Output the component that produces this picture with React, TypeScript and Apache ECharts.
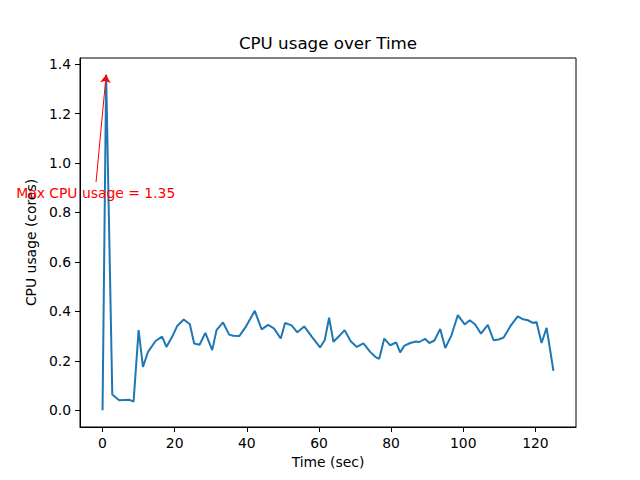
import React, { useEffect, useRef } from "react";
import * as echarts from "echarts";

const times = [0, 1, 2.7, 4.6, 7.5, 8.6, 10.0, 11.2, 12.6, 14.7, 16.5, 17.7, 19.4, 20.7, 22.5, 24.2, 25.4, 26.9, 28.5, 30.4, 31.6, 33.4, 35.1, 36.2, 37.9, 39.6, 42.2, 44.1, 45.9, 47.5, 49.4, 50.6, 52.4, 54.0, 55.9, 58.1, 60.3, 61.6, 62.8, 64.0, 65.6, 67.1, 68.8, 70.5, 72.3, 74.2, 75.6, 76.7, 78.1, 79.7, 81.4, 82.5, 83.6, 85.3, 86.9, 87.8, 89.4, 90.6, 92.0, 93.6, 95.0, 96.7, 98.5, 100.4, 101.8, 103.3, 104.9, 106.8, 108.4, 109.8, 111.2, 113.1, 115.1, 116.6, 117.9, 119.3, 120.3, 121.7, 123.1, 125.0];
const cpuUsage = [0, 1.357, 0.064, 0.04, 0.042, 0.035, 0.324, 0.175, 0.236, 0.28, 0.298, 0.256, 0.3, 0.341, 0.367, 0.348, 0.27, 0.265, 0.313, 0.243, 0.324, 0.355, 0.306, 0.301, 0.3, 0.335, 0.402, 0.327, 0.345, 0.331, 0.29, 0.353, 0.343, 0.315, 0.339, 0.296, 0.254, 0.284, 0.374, 0.277, 0.3, 0.324, 0.279, 0.256, 0.27, 0.236, 0.216, 0.208, 0.29, 0.263, 0.274, 0.234, 0.26, 0.272, 0.278, 0.276, 0.289, 0.272, 0.282, 0.329, 0.252, 0.302, 0.385, 0.347, 0.364, 0.347, 0.31, 0.345, 0.283, 0.286, 0.294, 0.341, 0.38, 0.368, 0.364, 0.353, 0.357, 0.272, 0.333, 0.159];
const xTicks = [0, 20, 40, 60, 80, 100, 120];
const yTicks = [0, 0.2, 0.4, 0.6, 0.8, 1.0, 1.2, 1.4];
const annotationText = "Max CPU usage = 1.35";
const annotationTextPos = [-1.9, 0.879];
const arrowTail = [-1.8, 0.923];

const FONT = "DejaVu Sans";

export default function App() {
  const ref = useRef<HTMLDivElement>(null);
  useEffect(() => {
    if (!ref.current) return;
    const chart = echarts.init(ref.current, undefined, { renderer: "svg" });
    const maxVal = Math.max(...cpuUsage);
    const maxIdx = cpuUsage.indexOf(maxVal);
    const xMin = Math.min(...times), xMax = Math.max(...times);
    const yMin = Math.min(...cpuUsage), yMax = maxVal;
    const xPad = (xMax - xMin) * 0.05, yPad = (yMax - yMin) * 0.05;
    chart.setOption({
      animation: false,
      grid: {
        left: 80, right: 64, top: 58, bottom: 53,
        show: true, borderColor: "#000", borderWidth: 1, backgroundColor: "transparent",
      },
      graphic: [
        {
          type: "text", x: 328, y: 43,
          style: { text: "CPU usage over Time", fill: "#000", font: `16.7px ${FONT}`, align: "center", verticalAlign: "middle" },
        },
      ],
      xAxis: {
        type: "value", min: xMin - xPad, max: xMax + xPad,
        name: "Time (sec)", nameLocation: "middle", nameGap: 28,
        nameTextStyle: { fontFamily: FONT, fontSize: 13.9, color: "#000" },
        axisLine: { show: true, onZero: false, lineStyle: { color: "#000", width: 1 } },
        axisTick: { show: true, length: 5, lineStyle: { color: "#000" }, customValues: xTicks },
        axisLabel: { show: true, margin: 9, fontFamily: FONT, fontSize: 13.9, color: "#000", customValues: xTicks, formatter: (v: number) => String(v) },
        splitLine: { show: false },
      },
      yAxis: {
        type: "value", min: yMin - yPad, max: yMax + yPad,
        name: "CPU usage (cores)", nameLocation: "middle", nameGap: 34,
        nameTextStyle: { fontFamily: FONT, fontSize: 13.9, color: "#000" },
        axisLine: { show: true, onZero: false, lineStyle: { color: "#000", width: 1 } },
        axisTick: { show: true, length: 5, lineStyle: { color: "#000" }, customValues: yTicks },
        axisLabel: { show: true, margin: 9, fontFamily: FONT, fontSize: 13.9, color: "#000", customValues: yTicks, formatter: (v: number) => v.toFixed(1) },
        splitLine: { show: false },
      },
      series: [
        {
          type: "line",
          data: times.map((t, i) => [t, cpuUsage[i]]),
          showSymbol: false, symbol: "none",
          lineStyle: { color: "#1f77b4", width: 2 },
          silent: true,
          z: 2,
        },
        {
          type: "line",
          data: [],
          z: 10,
          silent: true,
          markLine: {
            silent: true, animation: false,
            symbol: ["none", "arrow"], symbolSize: 8,
            label: { show: false },
            lineStyle: { color: "#ff0000", width: 1, type: "solid" },
            data: [[{ coord: arrowTail }, { coord: [times[maxIdx], maxVal] }]],
          },
          markPoint: {
            silent: true, symbol: "circle", symbolSize: 0,
            label: { show: true, position: "inside", formatter: annotationText, color: "#ff0000", fontFamily: FONT, fontSize: 13.9 },
            data: [{ coord: annotationTextPos }],
          },
        },
      ],
    });
    return () => chart.dispose();
  }, []);
  return <div ref={ref} style={{ width: 640, height: 480, margin: -8 }} />;
}
